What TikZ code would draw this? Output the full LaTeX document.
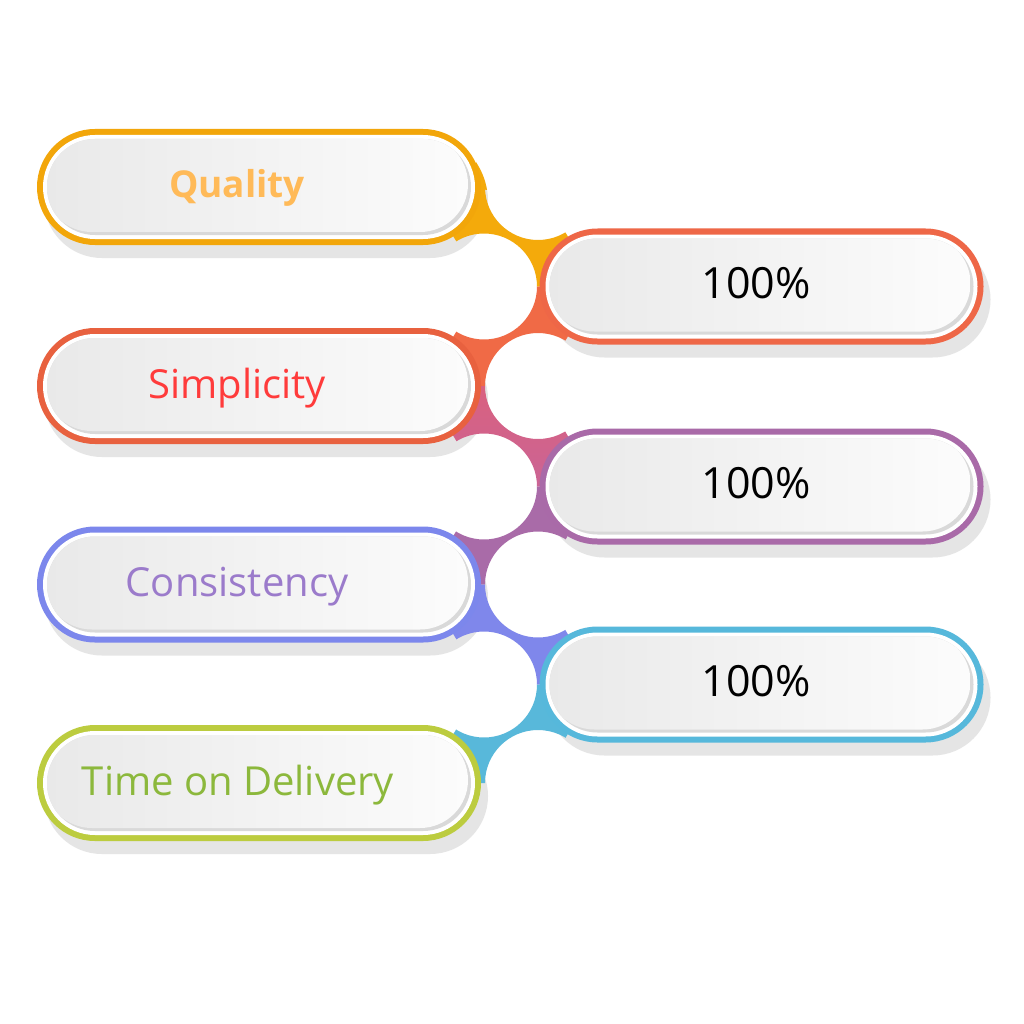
\documentclass[tikz,border=0pt]{standalone}
\usepackage{fontspec}
\setmainfont{Open Sans}
\definecolor{shadowc}{HTML}{E5E5E5}
\definecolor{innersh}{HTML}{D9D9D9}
\definecolor{innerL}{HTML}{E9E9E9}
\definecolor{innerR}{HTML}{FCFCFC}
\definecolor{rQ}{HTML}{F2A60A}
\definecolor{rA}{HTML}{EE6747}
\definecolor{rS}{HTML}{E8613F}
\definecolor{rB}{HTML}{A96AA8}
\definecolor{rC}{HTML}{7C87EC}
\definecolor{rD}{HTML}{56B8DB}
\definecolor{rT}{HTML}{BCCC3F}
\definecolor{tQ}{HTML}{FFBA58}
\definecolor{tS}{HTML}{FF3B3B}
\definecolor{tC}{HTML}{9B7BCB}
\definecolor{tT}{HTML}{8CB83C}
\definecolor{sA}{HTML}{F4AA0B}
\definecolor{sB}{HTML}{F06A46}
\definecolor{sCt}{HTML}{E05F74}
\definecolor{sCb}{HTML}{C466A0}
\definecolor{sD}{HTML}{A96BA8}
\definecolor{sE}{HTML}{7F87EB}
\definecolor{sF}{HTML}{58B8DA}
\newcommand\pillshadow[2]{%
  \fill[shadowc,rounded corners=58pt] ({#1-215},{#2-45}) rectangle ({#1+229},{#2+71});}
\newcommand\pillbody[3]{%
  \fill[#3,rounded corners=58pt] ({#1-222},{#2-58}) rectangle ({#1+222},{#2+58});
  \fill[white,rounded corners=52pt] ({#1-216},{#2-52}) rectangle ({#1+216},{#2+52});
  \fill[innersh,rounded corners=48pt] ({#1-212},{#2-48}) rectangle ({#1+212},{#2+48});
  \begin{scope}
    \clip[rounded corners=48pt] ({#1-212},{#2-48}) rectangle ({#1+212},{#2+48});
    \shade[left color=innerL,right color=innerR,rounded corners=48pt]
      ({#1-215},{#2-51}) rectangle ({#1+209},{#2+45});
  \end{scope}}
% segment from left pill (top row #1) to right pill (bottom row #2)
\newcommand\segLR[3]{%
  \begin{scope}
    \clip (423,#1) -- (538,#1) -- (598,#2) -- (484,#2) -- cycle;
    \fill[#3,even odd rule] (400,{#1-5}) rectangle (620,{#2+5})
      (538,#1) circle (53pt) (484,#2) circle (53pt);
  \end{scope}}
% segment from right pill (top row #1) to left pill (bottom row #2)
\newcommand\segRL[3]{%
  \begin{scope}
    \clip (484,#1) -- (598,#1) -- (538,#2) -- (423,#2) -- cycle;
    \fill[#3,even odd rule] (400,{#1-5}) rectangle (620,{#2+5})
      (484,#1) circle (53pt) (538,#2) circle (53pt);
  \end{scope}}
\begin{document}
\begin{tikzpicture}[x=1pt,y=-1pt,
  lbl/.style={anchor=base,inner sep=0pt,font=\fontsize{40}{46}\selectfont},
  pct/.style={anchor=base,inner sep=0pt,font=\fontsize{43}{48}\selectfont,text=black}]
\useasboundingbox[fill=white] (0,0) rectangle (1024,1024);
% shadows
\pillshadow{259}{187}
\pillshadow{761.5}{286.5}
\pillshadow{259}{386}
\pillshadow{761.5}{486.5}
\pillshadow{259}{584.5}
\pillshadow{761.5}{684.5}
\pillshadow{259}{783}
% connecting band
\fill[sA] (470,187) -- (476,162) .. controls (481,170) and (485,178) .. (487,190) -- cycle;
\segLR{187}{286.5}{sA}
\segRL{286.5}{386}{sB}
\begin{scope}
  \clip (423,386) -- (538,386) -- (598,486.5) -- (484,486.5) -- cycle;
  \shade[top color=sCt,bottom color=sCb,even odd rule] (400,381) rectangle (620,491.5)
    (538,386) circle (53pt) (484,486.5) circle (53pt);
\end{scope}
\segRL{486.5}{584.5}{sD}
\segLR{584.5}{684.5}{sE}
\segRL{684.5}{783}{sF}
% pills
\pillbody{259}{187}{rQ}
\pillbody{761.5}{286.5}{rA}
\pillbody{259}{386}{rS}
\pillbody{761.5}{486.5}{rB}
\pillbody{259}{584.5}{rC}
\pillbody{761.5}{684.5}{rD}
\pillbody{259}{783}{rT}
% labels
\node[lbl,text=tQ,font=\fontsize{37}{42}\selectfont\bfseries] (quality) at (237,198) {Quality};
\node[pct] (p1) at (756,298) {100\%};
\node[lbl,text=tS] (simplicity) at (237,398) {Simplicity};
\node[pct] (p2) at (756,498) {100\%};
\node[lbl,text=tC] (consistency) at (237,596.5) {Consistency};
\node[pct] (p3) at (756,696) {100\%};
\node[lbl,text=tT] (delivery) at (238,795) {Time on Delivery};
\end{tikzpicture}
\end{document}
